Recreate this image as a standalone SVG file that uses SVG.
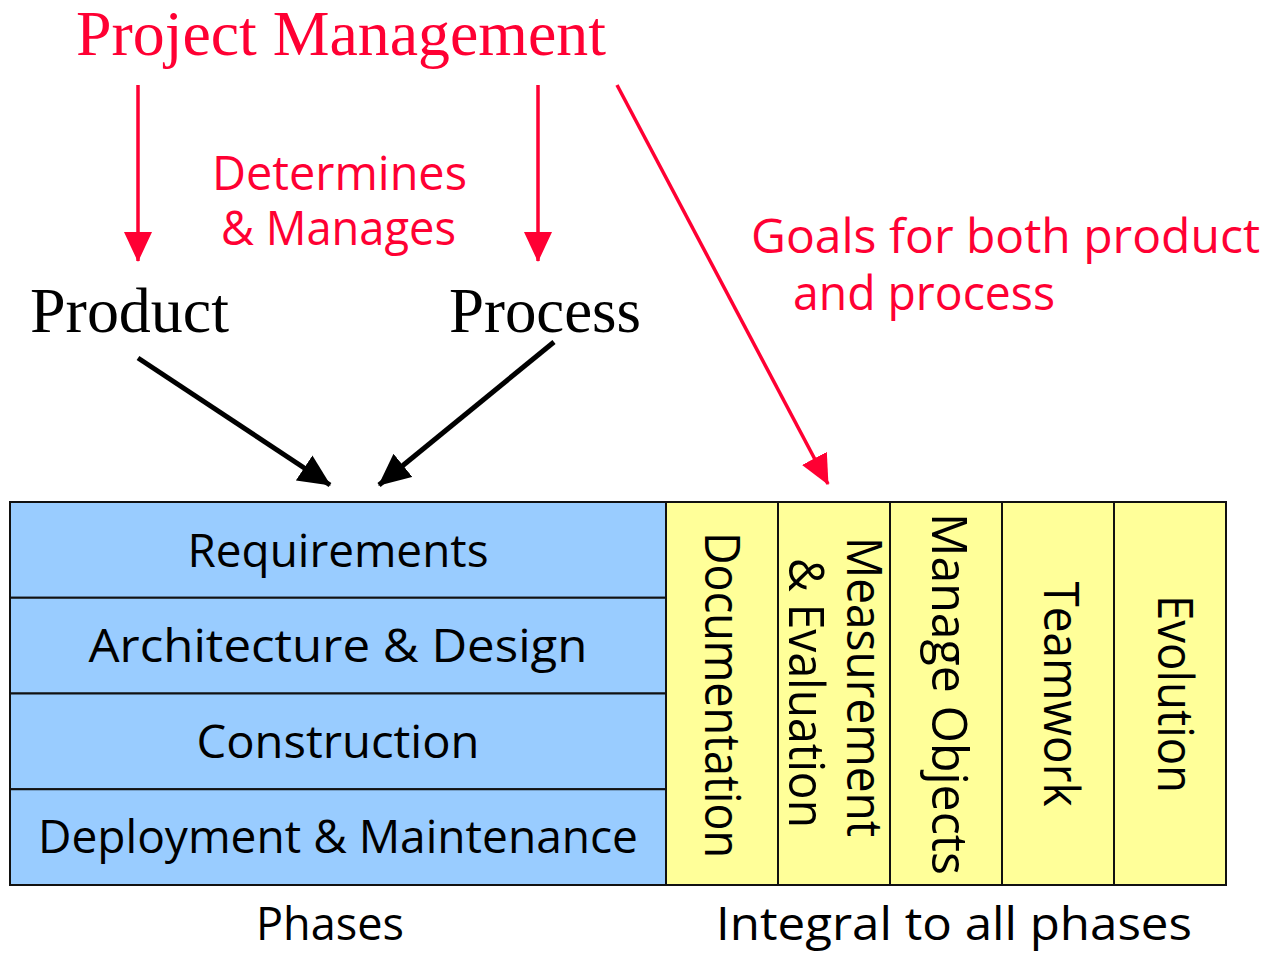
<svg xmlns="http://www.w3.org/2000/svg" width="1268" height="954" viewBox="0 0 1268 954">
<style>
.serif{font-family:"Liberation Serif","Times New Roman",serif;font-size:64px}
.comic{font-family:"Comic Sans MS","Open Sans","DejaVu Sans",sans-serif}
.red{fill:#FF0033}
.blk{fill:#000}
.row{font-size:45px;text-anchor:middle}
.col{font-size:50px;text-anchor:middle}
.lbl{font-size:47px}
.phase{fill:#99CCFF;stroke:#111;stroke-width:2}
.integ{fill:#FFFF99;stroke:#111;stroke-width:2}
.rl{stroke:#FF0033;stroke-width:3.5;fill:none}
.bl{stroke:#000;stroke-width:5;fill:none}
</style>
<defs>
<marker id="ahR" markerUnits="userSpaceOnUse" markerWidth="30" markerHeight="28" refX="29" refY="14" orient="auto"><path d="M0,0 L30,14 L0,28 z" fill="#FF0033"/></marker>
<marker id="ahB" markerUnits="userSpaceOnUse" markerWidth="32" markerHeight="30" refX="31" refY="15" orient="auto"><path d="M0,0 L32,15 L0,30 z" fill="#000"/></marker>
</defs>
<rect width="1268" height="954" fill="#fff"/>

<g id="project-management"><text class="serif red" x="76" y="55" textLength="530" lengthAdjust="spacingAndGlyphs">Project Management</text></g>
<g id="determines-label"><text class="comic red lbl" x="212" y="190" textLength="255" lengthAdjust="spacingAndGlyphs">Determines</text><text class="comic red lbl" x="221" y="245" textLength="235" lengthAdjust="spacingAndGlyphs">&amp; Manages</text></g>
<g id="goals-label"><text class="comic red lbl" x="751" y="253" textLength="509" lengthAdjust="spacingAndGlyphs">Goals for both product</text><text class="comic red lbl" x="793" y="310" textLength="262" lengthAdjust="spacingAndGlyphs">and process</text></g>
<g id="product"><text class="serif blk" x="30" y="332" textLength="199" lengthAdjust="spacingAndGlyphs">Product</text></g>
<g id="process"><text class="serif blk" x="449" y="332" textLength="192" lengthAdjust="spacingAndGlyphs">Process</text></g>

<g id="phases">
<rect class="phase" x="10" y="502" width="656" height="95.75"/>
<rect class="phase" x="10" y="597.75" width="656" height="95.75"/>
<rect class="phase" x="10" y="693.5" width="656" height="95.75"/>
<rect class="phase" x="10" y="789.25" width="656" height="95.75"/>
<text class="comic blk row" x="338" y="567" textLength="301" lengthAdjust="spacingAndGlyphs">Requirements</text>
<text class="comic blk row" x="338" y="662" textLength="499" lengthAdjust="spacingAndGlyphs">Architecture &amp; Design</text>
<text class="comic blk row" x="338" y="758" textLength="283" lengthAdjust="spacingAndGlyphs">Construction</text>
<text class="comic blk row" x="338" y="853" textLength="600" lengthAdjust="spacingAndGlyphs">Deployment &amp; Maintenance</text>
</g>

<g id="integral">
<rect class="integ" x="666" y="502" width="112" height="383"/>
<rect class="integ" x="778" y="502" width="112" height="383"/>
<rect class="integ" x="890" y="502" width="112" height="383"/>
<rect class="integ" x="1002" y="502" width="112" height="383"/>
<rect class="integ" x="1114" y="502" width="112" height="383"/>
<text class="comic blk col" transform="translate(705,695) rotate(90)" textLength="326" lengthAdjust="spacingAndGlyphs">Documentation</text>
<text class="comic blk col" transform="translate(847,687) rotate(90)" textLength="300" lengthAdjust="spacingAndGlyphs">Measurement</text>
<text class="comic blk col" transform="translate(789,693) rotate(90)" textLength="270" lengthAdjust="spacingAndGlyphs">&amp; Evaluation</text>
<text class="comic blk col" transform="translate(932,694) rotate(90)" textLength="362" lengthAdjust="spacingAndGlyphs">Manage Objects</text>
<text class="comic blk col" transform="translate(1044,694) rotate(90)" textLength="225" lengthAdjust="spacingAndGlyphs">Teamwork</text>
<text class="comic blk col" transform="translate(1158,694) rotate(90)" textLength="198" lengthAdjust="spacingAndGlyphs">Evolution</text>
</g>

<g id="captions">
<text class="comic blk" font-size="45" x="256" y="940" textLength="148" lengthAdjust="spacingAndGlyphs">Phases</text>
<text class="comic blk" font-size="45" x="716" y="940" textLength="476" lengthAdjust="spacingAndGlyphs">Integral to all phases</text>
</g>

<g id="connectors">
<line class="rl" x1="138" y1="85" x2="138" y2="261" marker-end="url(#ahR)"/>
<line class="rl" x1="538" y1="85" x2="538" y2="261" marker-end="url(#ahR)"/>
<line class="rl" x1="617" y1="85" x2="828" y2="484" marker-end="url(#ahR)"/>
<line class="bl" x1="138" y1="358" x2="330" y2="485" marker-end="url(#ahB)"/>
<line class="bl" x1="554" y1="342" x2="379" y2="485" marker-end="url(#ahB)"/>
</g>
</svg>
